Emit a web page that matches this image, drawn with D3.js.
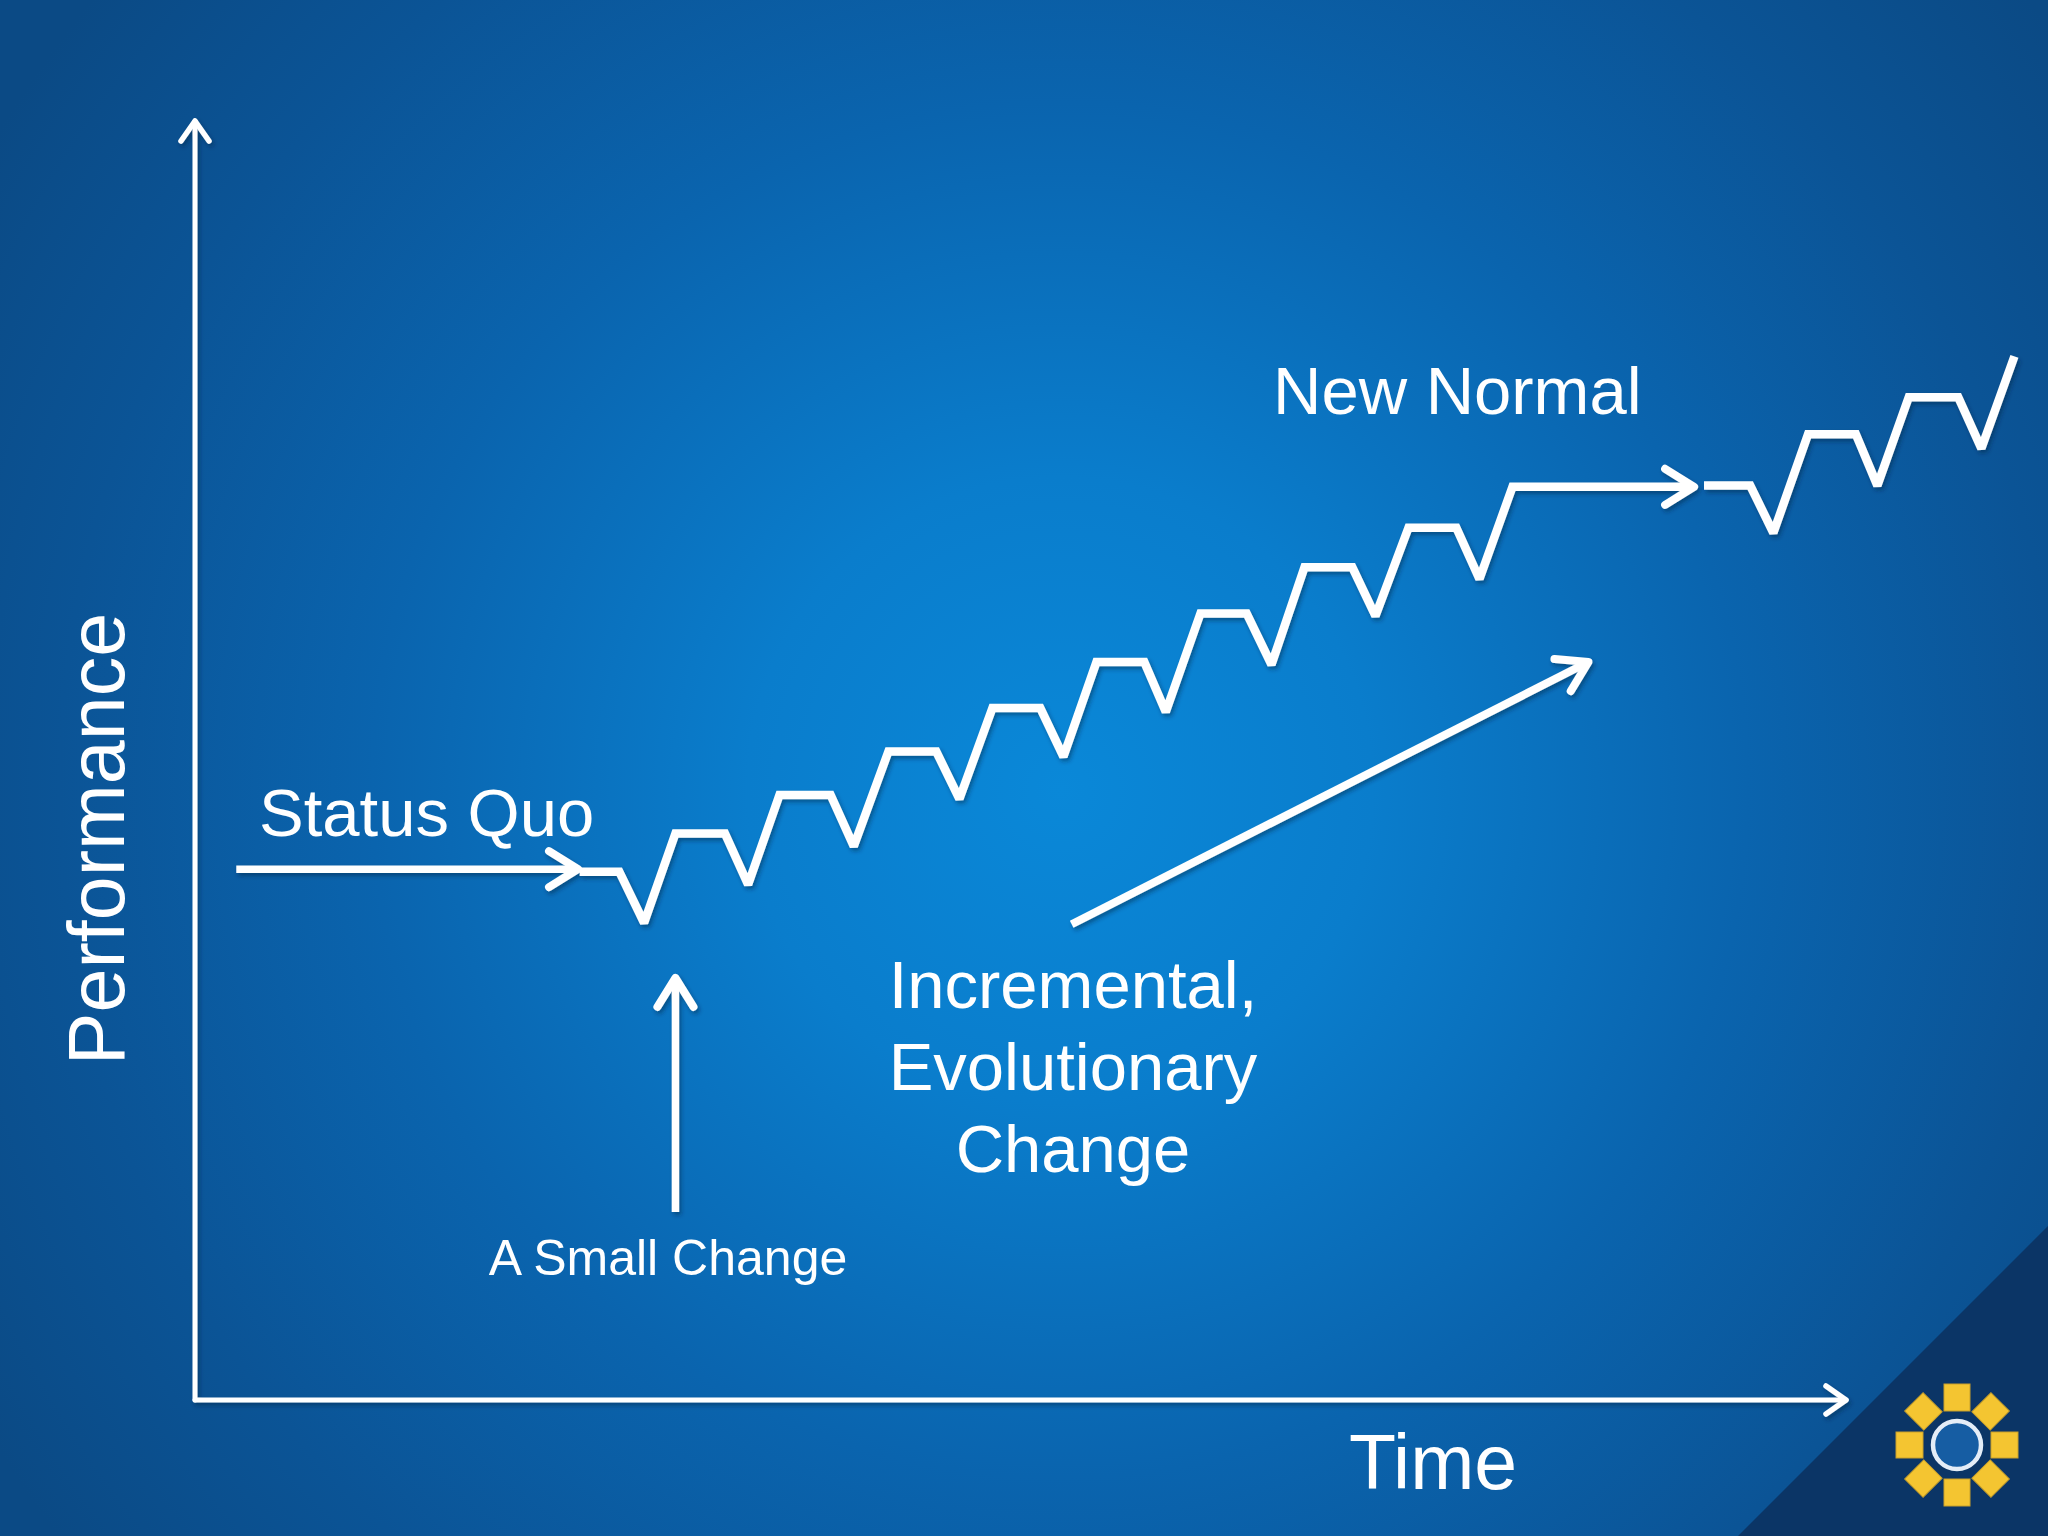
<!DOCTYPE html>
<html>
<head>
<meta charset="utf-8">
<script src="https://cdn.jsdelivr.net/npm/d3@7"></script>
<style>
  html, body { margin: 0; padding: 0; background: #0b4a85; }
  svg { display: block; }
  text { font-family: "Liberation Sans", Arial, Helvetica, sans-serif; fill: #ffffff; }
</style>
</head>
<body>
<svg id="chart" width="2048" height="1536"></svg>
<script>
// ---------------- DATA ----------------
// Axis titles and annotation labels
const xAxisTitle = "Time";
const yAxisTitle = "Performance";
const statusQuoLabel = "Status Quo";
const newNormalLabel = "New Normal";
const smallChangeLabel = "A Small Change";
const incrementalLines = ["Incremental,", "Evolutionary", "Change"];

// Axis extents (time / performance units)
const timeDomain = [0, 1000];
const perfDomain = [0, 1000];

// Incremental zig-zag path up to the "New Normal" arrow
const zigTime = [233, 257, 272, 291, 321, 335, 354, 385, 399, 420, 449, 463, 483, 512, 526, 546, 575, 588, 609, 637, 652, 672, 701, 715, 735, 764, 778, 798, 908];
const zigPerf = [413, 413, 373, 443, 443, 403, 473, 473, 433, 507, 507, 470, 541, 541, 503, 577, 577, 538, 615, 615, 575, 651, 651, 613, 682, 682, 642, 714, 714];

// Zig-zag continuing after the "New Normal" arrow
const nextTime = [914, 942, 956, 977, 1006, 1019, 1038, 1068, 1082, 1102];
const nextPerf = [715, 715, 678, 755, 755, 715, 784, 784, 744, 816];

// Status quo arrow
const statusTime = [25, 232];
const statusPerf = [415, 415];

// "A Small Change" vertical arrow
const smallTime = [291, 291];
const smallPerf = [147, 330];

// "Incremental, Evolutionary Change" trend arrow
const trendTime = [531, 844];
const trendPerf = [372, 577];

// ---------------- DRAW ----------------
const W = 2048, H = 1536;
const svg = d3.select("#chart");
const defs = svg.append("defs");

// background radial gradient
const bg = defs.append("radialGradient")
  .attr("id", "bg").attr("gradientUnits", "userSpaceOnUse")
  .attr("cx", 1060).attr("cy", 790).attr("r", 1250);
[["0", "#0a88d8"], ["0.25", "#0a7dcc"], ["0.55", "#0a64ae"], ["0.8", "#0b5496"], ["1", "#0b4a85"]]
  .forEach(([o, c]) => bg.append("stop").attr("offset", o).attr("stop-color", c));

// shadow filter for white strokes
const f = defs.append("filter").attr("id", "shadow")
  .attr("x", "-10%").attr("y", "-10%").attr("width", "120%").attr("height", "120%");
f.append("feDropShadow").attr("dx", 2).attr("dy", 3).attr("stdDeviation", 2)
  .attr("flood-color", "#00203f").attr("flood-opacity", 0.45);

// arrowhead markers (open chevrons)
function marker(id, len, half, sw) {
  defs.append("marker")
    .attr("id", id).attr("markerUnits", "userSpaceOnUse")
    .attr("viewBox", "-50 -50 60 100").attr("markerWidth", 60).attr("markerHeight", 100)
    .attr("refX", 0).attr("refY", 0).attr("orient", "auto")
    .style("overflow", "visible")
    .append("path")
    .attr("d", `M${-len},${-half} L0,0 L${-len},${half}`)
    .attr("fill", "none").attr("stroke", "#ffffff").attr("stroke-width", sw)
    .attr("stroke-linecap", "round").attr("stroke-linejoin", "round");
}
marker("arrow", 29, 18, 8);
marker("arrowAxis", 20, 14, 5.5);

svg.append("rect").attr("width", W).attr("height", H).attr("fill", "url(#bg)");

// dark corner triangle
svg.append("path")
  .attr("d", "M2048,1226 L2048,1536 L1738,1536 Z")
  .attr("fill", "#0b3566");

// scales
const x = d3.scaleLinear().domain(timeDomain).range([195, 1846]);
const y = d3.scaleLinear().domain(perfDomain).range([1400, 121]);

const line = d3.line().x(d => x(d[0])).y(d => y(d[1]));
const pairs = (a, b) => a.map((v, i) => [v, b[i]]);

const g = svg.append("g").attr("filter", "url(#shadow)");

// axes
g.append("path")
  .attr("d", line([[timeDomain[0], perfDomain[0]], [timeDomain[0], perfDomain[1]]]))
  .attr("fill", "none").attr("stroke", "#fff").attr("stroke-width", 5)
  .attr("stroke-linecap", "round")
  .attr("marker-end", "url(#arrowAxis)");
g.append("path")
  .attr("d", line([[timeDomain[0], perfDomain[0]], [timeDomain[1], perfDomain[0]]]))
  .attr("fill", "none").attr("stroke", "#fff").attr("stroke-width", 5)
  .attr("stroke-linecap", "round")
  .attr("marker-end", "url(#arrowAxis)");

// status quo arrow
g.append("path")
  .attr("d", line(pairs(statusTime, statusPerf)))
  .attr("fill", "none").attr("stroke", "#fff").attr("stroke-width", 7.5)
  .attr("marker-end", "url(#arrow)");

// zig-zag with arrow
g.append("path")
  .attr("d", line(pairs(zigTime, zigPerf)))
  .attr("fill", "none").attr("stroke", "#fff").attr("stroke-width", 8.5)
  .attr("stroke-linejoin", "miter").attr("stroke-miterlimit", 2)
  .attr("marker-end", "url(#arrow)");

// continuation
g.append("path")
  .attr("d", line(pairs(nextTime, nextPerf)))
  .attr("fill", "none").attr("stroke", "#fff").attr("stroke-width", 8.5)
  .attr("stroke-linejoin", "miter").attr("stroke-miterlimit", 2);

// small change arrow
g.append("path")
  .attr("d", line(pairs(smallTime, smallPerf)))
  .attr("fill", "none").attr("stroke", "#fff").attr("stroke-width", 7.5)
  .attr("marker-end", "url(#arrow)");

// trend arrow
g.append("path")
  .attr("d", line(pairs(trendTime, trendPerf)))
  .attr("fill", "none").attr("stroke", "#fff").attr("stroke-width", 8)
  .attr("marker-end", "url(#arrow)");

// texts
svg.append("text")
  .attr("transform", "translate(124,839) rotate(-90)")
  .attr("text-anchor", "middle")
  .style("font-size", "79px")
  .text(yAxisTitle);

svg.append("text")
  .attr("x", 1433).attr("y", 1489)
  .attr("text-anchor", "middle")
  .style("font-size", "77px")
  .text(xAxisTitle);

svg.append("text")
  .attr("x", 259).attr("y", 836)
  .style("font-size", "67px")
  .text(statusQuoLabel);

svg.append("text")
  .attr("x", 1273).attr("y", 414)
  .style("font-size", "67px")
  .text(newNormalLabel);

svg.append("text")
  .attr("x", 668).attr("y", 1275)
  .attr("text-anchor", "middle")
  .style("font-size", "50px")
  .text(smallChangeLabel);

const inc = svg.append("text")
  .attr("text-anchor", "middle")
  .style("font-size", "67px");
incrementalLines.forEach((t, i) => {
  inc.append("tspan").attr("x", 1073).attr("y", 1008 + i * 82).text(t);
});

// logo
const logo = svg.append("g").attr("transform", "translate(1957,1445)");
d3.range(8).forEach(i => {
  logo.append("rect")
    .attr("x", -13).attr("y", -61).attr("width", 26).attr("height", 27)
    .attr("transform", `rotate(${i * 45})`)
    .attr("fill", "#f4c531").attr("stroke", "#c9a02a").attr("stroke-width", 1);
});
logo.append("circle").attr("r", 24)
  .attr("fill", "#165da3").attr("stroke", "#e4edf7").attr("stroke-width", 4.5);
</script>
</body>
</html>
